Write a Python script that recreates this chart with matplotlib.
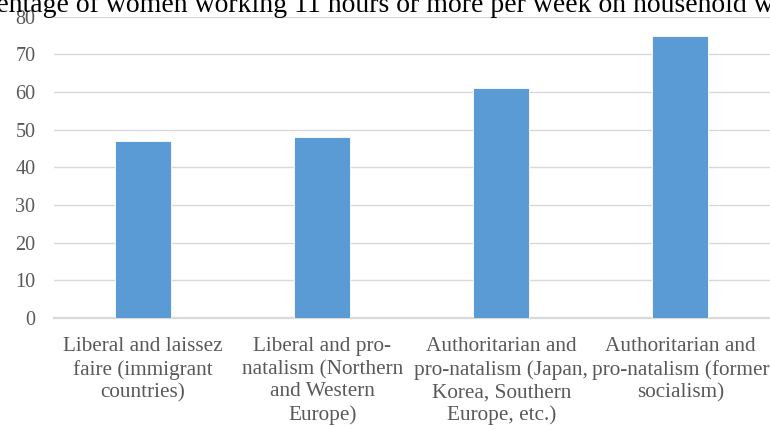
import matplotlib
matplotlib.use("Agg")
import matplotlib.pyplot as plt

categories = [
    "Liberal and laissez\nfaire (immigrant\ncountries)",
    "Liberal and pro-\nnatalism (Northern\nand Western\nEurope)",
    "Authoritarian and\npro-natalism (Japan,\nKorea, Southern\nEurope, etc.)",
    "Authoritarian and\npro-natalism (former\nsocialism)",
]
values = [47, 48, 61, 75]
yticks = [0, 10, 20, 30, 40, 50, 60, 70, 80]
title = "Percentage of women working 11 hours or more per week on household work"

plt.rcParams['font.family'] = ['Liberation Serif', 'DejaVu Serif']

fig = plt.figure(figsize=(7.7, 4.3), dpi=100)
ax = fig.add_axes([53.5 / 770, 1 - 318 / 430, 716.5 / 770, (318 - 16.7) / 430])

x = list(range(len(categories)))
ax.bar(x, values, width=0.313, color="#5B9BD5", edgecolor="white", linewidth=0.6, zorder=3)

ax.set_xlim(-0.5, 3.5)
ax.set_ylim(0, 80)
ax.set_yticks(yticks)
ax.set_xticks(x)
ax.set_xticklabels(categories, fontsize=15.3, color="#595959", linespacing=1.24)
ax.tick_params(axis='x', length=0, pad=14)
ax.tick_params(axis='y', length=0, pad=13, labelsize=14.5, labelcolor="#595959")

ax.grid(axis='y', color="#d9d9d9", linewidth=1.0, zorder=0)
ax.set_axisbelow(True)
for s in ['top', 'right', 'left']:
    ax.spines[s].set_visible(False)
ax.spines['bottom'].set_color("#d9d9d9")
ax.spines['bottom'].set_linewidth(1.6)

fig.text(0.492, 1 - 12 / 430, title, fontsize=20, color="black",
         ha='center', va='baseline')

fig.savefig("out.png", dpi=100)
